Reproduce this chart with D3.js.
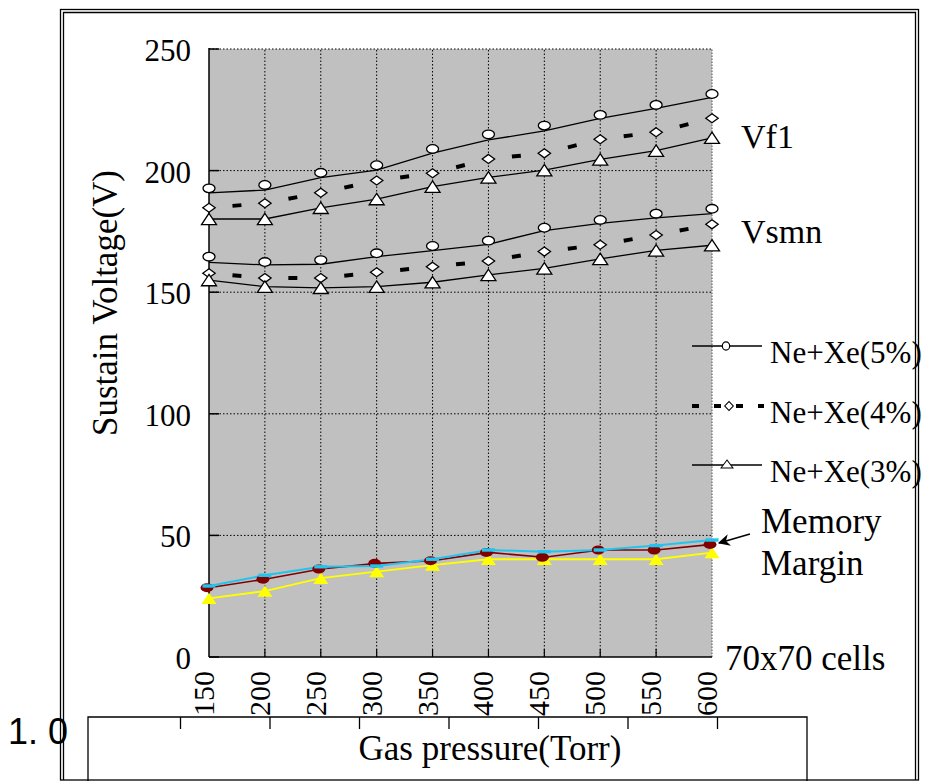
<!DOCTYPE html>
<html>
<head>
<meta charset="utf-8">
<script src="https://cdn.jsdelivr.net/npm/d3@7"></script>
<style>
body { margin: 0; background: #fff; }
svg { display: block; font-family: "Liberation Serif", "Times New Roman", serif; }
</style>
</head>
<body>
<div id="chart"></div>
<script>
// gas pressure (Torr) and voltage ticks
var pressures = [150, 200, 250, 300, 350, 400, 450, 500, 550, 600];
var yTicks = [0, 50, 100, 150, 200, 250];

// Vf1 curves
var vf1Xe5 = [192.7, 194.1, 199.1, 202.2, 208.9, 214.9, 218.5, 222.9, 227.0, 231.5];
var vf1Xe5Line = [190.8, 192.0, 197.1, 200.2, 207.2, 212.6, 216.3, 221.5, 225.6, 230.1];
var vf1Xe4 = [184.7, 186.6, 190.9, 195.9, 198.9, 204.8, 207.1, 212.9, 215.8, 221.5];
var vf1Xe3 = [180.1, 180.1, 184.7, 188.3, 193.4, 197.2, 200.2, 204.6, 208.2, 213.5];

// Vsmn curves
var vsmnXe5 = [164.6, 162.4, 163.2, 166.0, 169.0, 171.2, 176.5, 179.7, 182.3, 184.3];
var vsmnXe5Line = [162.3, 161.2, 161.5, 164.6, 167.1, 169.7, 175.3, 178.3, 180.6, 182.3];
var vsmnXe4 = [157.8, 155.8, 155.8, 158.2, 160.5, 162.8, 166.7, 169.5, 173.5, 177.9];
var vsmnXe3 = [155.0, 152.3, 151.8, 152.3, 154.1, 157.1, 159.8, 163.7, 167.2, 169.3];

// memory margin
var marginXe5 = [29.2, 33.6, 37.1, 37.4, 40.2, 44.0, 43.3, 44.0, 45.8, 48.1];
var marginXe4 = [28.5, 32.0, 36.2, 38.5, 39.6, 43.0, 41.0, 44.0, 44.0, 46.3];
var marginXe3 = [24.1, 27.1, 32.4, 35.1, 37.8, 40.2, 40.2, 40.2, 40.2, 42.9];

var legendLabels = ["Ne+Xe(5%)", "Ne+Xe(4%)", "Ne+Xe(3%)"];
var boxTicks = [1, 2, 3, 4, 5, 6, 7];

var W = 926, H = 781;
var svg = d3.select("#chart").append("svg")
    .attr("width", W)
    .attr("height", H);

var x = d3.scaleLinear().domain([150, 600]).range([209, 712]);
var y = d3.scaleLinear().domain([0, 250]).range([657, 49]);

// plot background
svg.append("rect")
    .attr("x", x(150)).attr("y", y(250))
    .attr("width", x(600) - x(150)).attr("height", y(0) - y(250))
    .attr("fill", "#c0c0c0");

// grid
svg.selectAll(".vgrid").data(pressures.slice(1, -1)).enter().append("line")
    .attr("x1", d => x(d)).attr("x2", d => x(d))
    .attr("y1", y(0)).attr("y2", y(250))
    .attr("stroke", "#000").attr("stroke-width", 1)
    .attr("stroke-dasharray", "1.5,2");
svg.selectAll(".hgrid").data(yTicks.slice(1)).enter().append("line")
    .attr("x1", x(150)).attr("x2", x(600))
    .attr("y1", d => y(d)).attr("y2", d => y(d))
    .attr("stroke", "#000").attr("stroke-width", 1)
    .attr("stroke-dasharray", "1.5,2");
svg.append("line")
    .attr("x1", x(600)).attr("x2", x(600))
    .attr("y1", y(0)).attr("y2", y(250))
    .attr("stroke", "#666").attr("stroke-width", 1.2)
    .attr("stroke-dasharray", "1.5,1.5");

// axes lines and inward ticks
svg.append("line")
    .attr("x1", x(150)).attr("x2", x(150))
    .attr("y1", y(0)).attr("y2", y(250) - 1)
    .attr("stroke", "#000").attr("stroke-width", 1.5);
svg.append("line")
    .attr("x1", x(150)).attr("x2", x(600))
    .attr("y1", y(0)).attr("y2", y(0))
    .attr("stroke", "#000").attr("stroke-width", 1.5);
svg.selectAll(".ytick").data(yTicks).enter().append("line")
    .attr("x1", x(150)).attr("x2", x(150) + 10)
    .attr("y1", d => y(d)).attr("y2", d => y(d))
    .attr("stroke", "#000").attr("stroke-width", 1.5);
svg.selectAll(".xtick").data(pressures.slice(1, -1)).enter().append("line")
    .attr("x1", d => x(d)).attr("x2", d => x(d))
    .attr("y1", y(0)).attr("y2", y(0) - 8)
    .attr("stroke", "#000").attr("stroke-width", 1.2);

// tick labels
svg.selectAll(".ylab").data(yTicks).enter().append("text")
    .attr("x", 191).attr("y", d => y(d) + 12)
    .attr("text-anchor", "end")
    .attr("font-size", 31)
    .text(d => d);
svg.selectAll(".xlab").data(pressures).enter().append("text")
    .attr("transform", d => "translate(" + (x(d) + 5) + ",716) rotate(-90)")
    .attr("text-anchor", "start")
    .attr("font-size", 30)
    .text(d => d);

svg.append("text")
    .attr("transform", "translate(117,303) rotate(-90)")
    .attr("text-anchor", "middle")
    .attr("font-size", 35)
    .text("Sustain Voltage(V)");

// series helpers
function pts(vals) {
    return vals.map(function(v, i) { return [x(pressures[i]), y(v)]; });
}
var line = d3.line();

function solid(vals, color, w) {
    svg.append("path")
        .attr("d", line(pts(vals)))
        .attr("fill", "none")
        .attr("stroke", color)
        .attr("stroke-width", w);
}

function dashedMid(vals) {
    var p = pts(vals);
    for (var i = 0; i < p.length - 1; i++) {
        var L = Math.hypot(p[i + 1][0] - p[i][0], p[i + 1][1] - p[i][1]);
        svg.append("line")
            .attr("x1", p[i][0]).attr("y1", p[i][1])
            .attr("x2", p[i + 1][0]).attr("y2", p[i + 1][1])
            .attr("stroke", "#000").attr("stroke-width", 4)
            .attr("stroke-dasharray", "0 " + ((L - 9) / 2) + " 9 " + L);
    }
}

var diamond = "M0,-4.5L6.2,0L0,4.5L-6.2,0Z";
var triangle = "M0,-5.7L7.5,5.7L-7.5,5.7Z";

function circles(vals) {
    svg.append("g").selectAll("ellipse").data(pts(vals)).enter().append("ellipse")
        .attr("cx", d => d[0]).attr("cy", d => d[1])
        .attr("rx", 6).attr("ry", 4.3)
        .attr("fill", "#fff").attr("stroke", "#000").attr("stroke-width", 1.3);
}
function shapes(vals, shape, fill, stroke) {
    svg.append("g").selectAll("path").data(pts(vals)).enter().append("path")
        .attr("transform", d => "translate(" + d[0] + "," + d[1] + ")")
        .attr("d", shape)
        .attr("fill", fill)
        .attr("stroke", stroke)
        .attr("stroke-width", stroke == "none" ? 0 : 1.3);
}

[[vf1Xe5, vf1Xe5Line, vf1Xe4, vf1Xe3], [vsmnXe5, vsmnXe5Line, vsmnXe4, vsmnXe3]].forEach(function(grp) {
    solid(grp[1], "#000", 1.3);
    dashedMid(grp[2]);
    solid(grp[3], "#000", 1.3);
    circles(grp[0]);
    shapes(grp[2], diamond, "#fff", "#000");
    shapes(grp[3], triangle, "#fff", "#000");
});

// memory margin
solid(marginXe3, "#ffff00", 1.8);
solid(marginXe4, "#800000", 1.6);
solid(marginXe5, "#22c4ee", 2);
shapes(marginXe3, triangle, "#ffff00", "none");
svg.append("g").selectAll("ellipse").data(pts(marginXe4)).enter().append("ellipse")
    .attr("cx", d => d[0] - 2).attr("cy", d => d[1])
    .attr("rx", 6.5).attr("ry", 4.5)
    .attr("fill", "#800000");
svg.append("g").selectAll("rect").data(pts(marginXe5)).enter().append("rect")
    .attr("x", d => d[0] - 6.5).attr("y", d => d[1] - 1.7)
    .attr("width", 13).attr("height", 3.4)
    .attr("fill", "#22c4ee");

// legend
var legY = [346, 406, 465];
svg.append("line").attr("x1", 692).attr("x2", 762).attr("y1", legY[0]).attr("y2", legY[0])
    .attr("stroke", "#000").attr("stroke-width", 1.3);
svg.append("ellipse").attr("cx", 726).attr("cy", legY[0]).attr("rx", 3.7).attr("ry", 4.2)
    .attr("fill", "#fff").attr("stroke", "#000").attr("stroke-width", 1.2);
svg.append("line").attr("x1", 692).attr("x2", 764).attr("y1", legY[1]).attr("y2", legY[1])
    .attr("stroke", "#000").attr("stroke-width", 4).attr("stroke-dasharray", "7,15");
svg.append("path").attr("transform", "translate(729," + legY[1] + ") scale(0.7,1)")
    .attr("d", diamond).attr("fill", "#fff").attr("stroke", "#000").attr("stroke-width", 1.2);
svg.append("line").attr("x1", 692).attr("x2", 762).attr("y1", legY[2]).attr("y2", legY[2])
    .attr("stroke", "#000").attr("stroke-width", 1.3);
svg.append("path").attr("transform", "translate(727," + (legY[2] - 1) + ") scale(0.8,0.7)")
    .attr("d", triangle).attr("fill", "#fff").attr("stroke", "#000").attr("stroke-width", 1.3);
svg.selectAll(".leg").data(legendLabels).enter().append("text")
    .attr("x", 770).attr("y", (d, i) => legY[i] + 17)
    .attr("font-size", 31)
    .text(d => d);

// curve labels
svg.append("text").attr("x", 741).attr("y", 148).attr("font-size", 34).text("Vf1");
svg.append("text").attr("x", 741).attr("y", 243).attr("font-size", 34).text("Vsmn");
svg.append("text").attr("x", 761).attr("y", 533).attr("font-size", 35).text("Memory");
svg.append("text").attr("x", 761).attr("y", 575).attr("font-size", 35).text("Margin");
svg.append("text").attr("x", 725).attr("y", 670).attr("font-size", 35).text("70x70 cells");

// arrow to memory margin
svg.append("defs").append("marker")
    .attr("id", "arr").attr("viewBox", "0 0 10 10")
    .attr("refX", 9).attr("refY", 5)
    .attr("markerWidth", 12).attr("markerHeight", 12)
    .attr("markerUnits", "userSpaceOnUse")
    .attr("orient", "auto")
    .append("path").attr("d", "M0,0L10,5L0,10L3,5Z").attr("fill", "#000");
svg.append("line")
    .attr("x1", 750).attr("y1", 534)
    .attr("x2", x(600) + 7).attr("y2", y(marginXe5[9]) + 3)
    .attr("stroke", "#000").attr("stroke-width", 1.5)
    .attr("marker-end", "url(#arr)");

// lower box
var bx = d3.scaleLinear().domain([0, 8]).range([91, 807]);
svg.append("path")
    .attr("d", "M88," + H + "V717H807V" + H)
    .attr("fill", "none").attr("stroke", "#000").attr("stroke-width", 1.3);
svg.selectAll(".btick").data(boxTicks).enter().append("line")
    .attr("x1", d => bx(d)).attr("x2", d => bx(d))
    .attr("y1", 717).attr("y2", 729)
    .attr("stroke", "#000").attr("stroke-width", 1.3);
svg.append("text")
    .attr("x", 490).attr("y", 760)
    .attr("text-anchor", "middle")
    .attr("font-size", 35)
    .text("Gas pressure(Torr)");

// outer double frame
svg.append("rect").attr("x", 60.5).attr("y", 9.5).attr("width", 858).attr("height", 770.5)
    .attr("fill", "none").attr("stroke", "#000").attr("stroke-width", 1.3);
svg.append("path").attr("d", "M63.5,780V12.5H915.5V780")
    .attr("fill", "none").attr("stroke", "#000").attr("stroke-width", 1.3);

svg.append("text")
    .attr("x", 8).attr("y", 744)
    .attr("font-family", "'Liberation Sans', Arial, sans-serif")
    .attr("font-size", 36)
    .text("1. 0");
</script>
</body>
</html>
